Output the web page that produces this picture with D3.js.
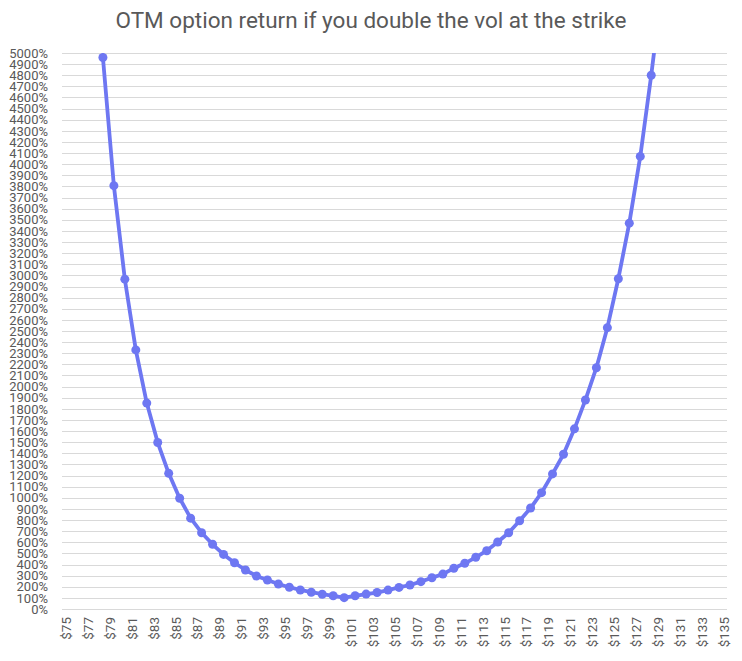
<!DOCTYPE html>
<html>
<head>
<meta charset="utf-8">
<script src="https://cdn.jsdelivr.net/npm/d3@7"></script>
<style>
  body { margin: 0; background: #fff; }
  svg { display: block; font-family: Roboto, "DejaVu Sans", sans-serif; }
</style>
</head>
<body>
<svg></svg>
<script>
let width = 742, height = 661;

// strike prices with a value
let strikes = [78, 79, 80, 81, 82, 83, 84, 85, 86, 87, 88, 89, 90, 91, 92, 93, 94, 95, 96, 97, 98, 99, 100,
    101, 102, 103, 104, 105, 106, 107, 108, 109, 110, 111, 112, 113, 114, 115, 116, 117, 118, 119, 120,
    121, 122, 123, 124, 125, 126, 127, 128, 129];

// return in percent
let returns = [4960, 3807, 2966, 2330, 1852, 1497, 1220, 996, 817, 686, 582, 491, 416, 351, 297, 261, 225, 196, 171, 151, 133, 119, 102,
    119, 134, 148, 170, 194, 216, 246, 281, 314, 366, 411, 465, 524, 603, 686, 794, 908, 1046, 1215, 1392,
    1620, 1880, 2170, 2530, 2970, 3470, 4070, 4800, 5600];

// x tick labels every $2
let xTicks = [75, 77, 79, 81, 83, 85, 87, 89, 91, 93, 95, 97, 99, 101, 103, 105, 107, 109, 111, 113, 115,
    117, 119, 121, 123, 125, 127, 129, 131, 133, 135];

// y ticks every 100%
let yTicks = [0, 100, 200, 300, 400, 500, 600, 700, 800, 900, 1000, 1100, 1200, 1300, 1400, 1500, 1600, 1700,
    1800, 1900, 2000, 2100, 2200, 2300, 2400, 2500, 2600, 2700, 2800, 2900, 3000, 3100, 3200, 3300, 3400,
    3500, 3600, 3700, 3800, 3900, 4000, 4100, 4200, 4300, 4400, 4500, 4600, 4700, 4800, 4900, 5000];

let plot = { left: 62, right: 727, top: 53, bottom: 609 };

let svg = d3.select("svg")
    .attr("width", width)
    .attr("height", height)
    .attr("viewBox", "0 0 " + width + " " + height);

let x = d3.scaleLinear()
    .domain([75, 135])
    .range([70, 728]);

let y = d3.scaleLinear()
    .domain([0, 5000])
    .range([plot.bottom, plot.top]);

// Title
svg.append("text")
    .attr("x", width / 2)
    .attr("y", 28)
    .attr("text-anchor", "middle")
    .style("font-size", "22.5px")
    .style("fill", "#595959")
    .text("OTM option return if you double the vol at the strike");

// Gridlines
svg.append("g")
    .attr("class", "grid")
    .selectAll("line")
    .data(yTicks)
    .enter()
    .append("line")
    .attr("x1", plot.left)
    .attr("x2", plot.right)
    .attr("y1", d => Math.round(y(d)) + 0.5)
    .attr("y2", d => Math.round(y(d)) + 0.5)
    .style("stroke", "#d9d9d9")
    .style("stroke-width", 1);

// Y labels
svg.append("g")
    .selectAll("text")
    .data(yTicks)
    .enter()
    .append("text")
    .attr("x", 48)
    .attr("y", d => y(d))
    .attr("dy", "0.36em")
    .attr("text-anchor", "end")
    .style("font-size", "13px")
    .style("fill", "#595959")
    .text(d => d + "%");

// X labels, rotated
svg.append("g")
    .selectAll("text")
    .data(xTicks)
    .enter()
    .append("text")
    .attr("transform", d => "translate(" + (x(d) - 4) + ",617) rotate(-90)")
    .attr("dy", "0.36em")
    .attr("text-anchor", "end")
    .style("font-size", "13.5px")
    .style("fill", "#595959")
    .text(d => "$" + d);

// Clip to plot area
svg.append("clipPath")
    .attr("id", "clip")
    .append("rect")
    .attr("x", plot.left)
    .attr("y", plot.top)
    .attr("width", plot.right - plot.left)
    .attr("height", plot.bottom - plot.top);

let data = strikes.map((s, i) => ({ strike: s, ret: returns[i] }));

let series = svg.append("g")
    .attr("clip-path", "url(#clip)");

series.append("path")
    .datum(data)
    .attr("d", d3.line().x(d => x(d.strike)).y(d => y(d.ret)))
    .style("fill", "none")
    .style("stroke", "#6e77f2")
    .style("stroke-width", 3.8)
    .style("stroke-linejoin", "round");

series.selectAll("circle")
    .data(data)
    .enter()
    .append("circle")
    .attr("cx", d => x(d.strike))
    .attr("cy", d => y(d.ret))
    .attr("r", 4.5)
    .style("fill", "#6e77f2");
</script>
</body>
</html>
